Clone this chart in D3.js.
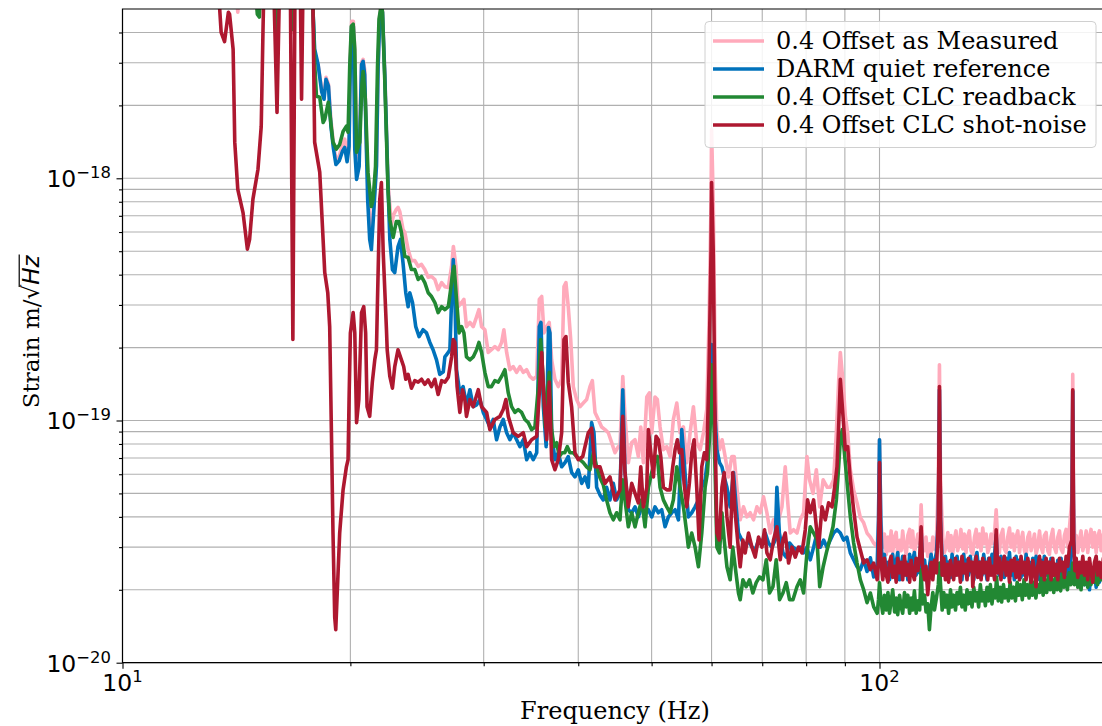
<!DOCTYPE html>
<html>
<head>
<meta charset="utf-8">
<script src="https://cdn.jsdelivr.net/npm/d3@7"></script>
<style>
  body { margin: 0; background: #fff; }
  svg { display: block; }
</style>
</head>
<body>
<div id="chart"></div>
<script>
// strain values below are written in units of 1e-20 m/sqrt(Hz), frequencies in Hz
const UNIT = 1e-20;

const seriesNames = ["0.4 Offset as Measured", "DARM quiet reference", "0.4 Offset CLC readback", "0.4 Offset CLC shot-noise"];
const seriesColors = ["#ffaabb", "#0072bb", "#228833", "#ae1830"];

const measured = [
 [10, 970], [14.11, 662], [14.2, 485], [14.3, 662], [14.97, 662], [15.09, 476], [15.2, 662],
 [15.84, 662], [15.97, 341], [16.1, 662], [16.63, 662], [16.76, 400], [16.88, 662], [17.78, 662],
 [17.94, 325], [18.13, 295], [18.33, 233], [18.46, 218], [18.57, 261], [18.71, 244], [18.85, 175],
 [19.0, 138], [19.14, 120], [19.33, 123], [19.52, 138], [19.66, 145], [19.8, 126], [19.92, 145],
 [19.99, 310], [20.08, 445], [20.18, 445], [20.27, 341], [20.38, 132], [20.54, 120], [20.69, 301],
 [20.79, 310], [20.89, 281], [21.0, 138], [21.21, 64.5], [21.32, 58.6], [21.47, 78], [21.65, 114],
 [21.76, 295], [21.87, 476], [21.97, 524], [22.05, 490], [22.21, 268], [22.43, 94.4], [22.66, 64.5],
 [22.82, 70.9], [23.0, 74.4], [23.12, 75.8], [23.24, 73], [23.47, 61.5], [23.6, 59.8], [23.84, 50.8],
 [24.08, 45.7], [24.33, 45.7], [24.58, 43.3], [24.83, 44.1], [25.08, 42.0], [25.34, 39.0], [25.6, 39.3],
 [25.86, 38.2], [26.12, 34.7], [26.4, 37.1], [26.66, 35.7], [26.94, 35.4], [27.21, 43.3], [27.36, 52.3],
 [27.57, 43.3], [27.76, 29.5], [28.05, 30.7], [28.25, 31.6], [28.47, 24.4], [28.77, 25.4], [29.06, 24.4],
 [29.36, 26.8], [29.57, 28.7], [29.81, 24.4], [30.11, 23.7], [30.42, 19.1], [30.72, 19.6], [31.04, 20.2],
 [31.36, 19.6], [31.68, 21.0], [31.9, 23.7], [32.17, 19.1], [32.49, 16.2], [32.82, 16.7], [33.16, 15.8],
 [33.5, 16.7], [33.84, 15.8], [34.19, 16.2], [34.53, 15.2], [34.88, 14.8], [35.25, 15.2], [35.53, 31.6],
 [35.79, 32.5], [36.04, 23.0], [36.34, 24.4], [36.62, 25.4], [36.89, 17.8], [37.26, 14.8], [37.64, 13.8],
 [38.03, 14.8], [38.3, 35.7], [38.53, 37.1], [38.8, 29.5], [39.09, 21.6], [39.4, 13.8], [39.8, 12.2],
 [40.21, 11.4], [40.62, 11.8], [41.03, 12.2], [41.45, 13.8], [41.75, 14.6], [42.09, 10.8], [42.52, 10.1],
 [42.95, 9.4], [43.39, 9.17], [43.83, 8.9], [44.28, 8.1], [44.73, 7.36], [45.18, 7.8], [45.41, 7.8],
 [45.8, 15.2], [46.11, 10.4], [46.58, 6.7], [47.06, 8.1], [47.54, 8.33], [48.02, 7.1], [48.38, 9.4],
 [48.76, 6.7], [49.27, 12.5], [49.66, 13.0], [50.02, 8.9], [50.52, 12.5], [50.88, 12.2], [51.3, 9.4],
 [51.82, 7.58], [52.36, 7.8], [52.89, 7.1], [53.42, 10.1], [53.98, 11.8], [54.52, 8.9], [55.08, 9.4],
 [55.64, 6.7], [56.21, 8.9], [56.78, 11.4], [57.35, 8.1], [57.95, 7.58], [58.54, 8.9], [59.13, 11.1],
 [59.55, 26.1], [59.91, 81.8], [60, 159], [60.3, 81.8], [60.66, 16.7], [60.98, 8.9], [61.47, 7.58],
 [61.96, 8.33], [62.53, 7.1], [63.17, 5.85], [63.81, 7.1], [64.27, 7.1], [64.8, 5.3], [65.46, 3.89],
 [66.12, 4.4], [66.81, 4.0], [67.48, 4.16], [68.17, 3.89], [68.87, 4.4], [69.57, 4.16], [70.28, 4.84],
 [71.0, 4.16], [71.72, 3.43], [72.45, 3.89], [73.19, 3.64], [74.32, 4.4], [75.07, 6.44], [75.6, 4.7],
 [76.23, 3.43], [77.0, 3.54], [77.8, 3.43], [78.58, 3.89], [79.38, 4.16], [80.2, 7.1], [80.83, 5.69],
 [81.68, 5.0], [82.52, 6.26], [83.37, 4.4], [84.25, 5.69], [85.31, 5.3], [86.1, 5.3], [86.98, 5.69],
 [87.7, 8.9], [88.31, 14.4], [88.77, 19.1], [89.5, 14.4], [90.13, 10.4], [90.77, 8.9], [91.51, 6.26],
 [92.44, 5.17], [93.4, 4.57], [94.34, 3.97], [95.3, 3.78], [96.28, 3.43], [97.26, 3.3], [98.25, 3.12],
 [99.3, 3.0], [99.7, 3.89], [100, 8.33], [100.4, 3.89],
 [101.0, 3.0], [101.5, 3.4], [102.1, 2.8], [102.6, 3.3], [103.1, 2.9], [103.6, 3.5], [104.1, 2.85], [104.7, 3.3],
 [105.2, 3.45], [105.7, 2.8], [106.3, 3.2], [106.8, 2.9], [107.3, 3.5], [107.9, 3.0], [108.5, 2.8], [109.0, 3.35],
 [109.6, 3.55], [110.1, 3.0], [110.6, 3.5], [111.2, 2.85], [111.8, 3.1], [112.4, 3.4], [113.0, 3.1], [113.5, 4.49],
 [114.0, 3.2], [114.7, 2.9], [115.2, 3.3], [115.8, 2.75], [116.4, 3.1], [117.0, 2.8], [117.6, 3.3], [118.2, 2.95],
 [118.9, 3.2], [119.6, 5.69], [120, 17.0], [120.4, 5.69], [121.2, 3.3], [121.8, 2.85], [122.4, 3.0], [123.1, 3.45],
 [123.7, 2.9], [124.3, 3.35], [124.9, 2.8], [125.6, 3.25], [126.2, 3.5], [126.8, 2.9], [127.5, 3.1], [128.1, 3.55],
 [128.8, 2.95], [129.4, 3.4], [130.1, 2.85], [130.7, 3.3], [131.4, 3.5], [132.1, 2.9], [132.8, 2.8], [133.5, 3.3],
 [134.2, 3.55], [134.8, 3.0], [135.5, 3.4], [136.2, 2.9], [136.9, 3.6], [137.6, 3.1], [138.3, 3.4], [139.0, 2.85],
 [139.7, 3.0], [140.4, 3.4], [141.1, 3.1], [142.0, 3.54], [142.6, 4.28], [143.2, 3.3], [144.0, 2.85], [144.7, 3.35],
 [145.5, 3.55], [146.2, 2.95], [147.0, 2.85], [147.7, 3.3], [148.5, 3.6], [149.2, 3.0], [150.0, 3.4], [150.7, 2.9],
 [151.5, 3.3], [152.3, 3.5], [153.1, 2.85], [153.8, 3.2], [154.6, 3.45], [155.4, 2.9], [156.2, 2.75], [157.0, 3.3],
 [157.8, 3.45], [158.6, 2.9], [159.4, 3.1], [160.2, 3.4], [161.0, 2.8], [161.8, 3.0], [162.7, 3.5], [163.5, 3.0],
 [164.3, 2.85], [165.1, 3.35], [166.0, 3.45], [166.8, 2.9], [167.7, 2.8], [168.5, 3.3], [169.4, 3.55], [170.2, 3.0],
 [171.1, 2.85], [172.0, 3.3], [172.9, 3.5], [173.7, 2.95], [174.6, 2.85], [175.5, 3.35], [176.4, 3.55], [177.3, 3.0],
 [178.2, 3.6], [179.5, 4.7], [180, 15.5], [180.5, 4.7], [181.2, 3.0], [181.9, 3.35], [182.8, 2.85], [183.7, 3.2],
 [184.6, 3.5], [185.6, 2.9], [186.5, 3.1], [187.5, 3.5], [188.4, 2.85], [189.4, 3.3], [190.3, 3.55], [191.3, 3.0],
 [192.3, 3.45], [193.3, 2.85], [194.2, 3.3], [195.2, 3.5], [196.2, 2.9], [197.6, 3.4], [199, 2.95], [201, 3.3]
];

const quietRef = [
 [10, 970], [17.78, 662], [17.94, 341], [18.13, 295], [18.33, 227], [18.46, 212], [18.57, 256], [18.71, 240],
 [18.85, 164], [19.0, 132], [19.14, 114], [19.33, 118], [19.52, 129], [19.66, 134], [19.8, 117], [19.92, 136],
 [19.99, 281], [20.08, 425], [20.18, 425], [20.27, 132], [20.38, 99], [20.54, 112], [20.69, 295], [20.79, 304],
 [20.89, 268], [21.0, 132], [21.08, 81.8], [21.21, 55.9], [21.32, 50.8], [21.47, 72.3], [21.65, 112], [21.76, 289],
 [21.87, 454], [21.97, 509], [22.05, 485], [22.21, 263], [22.43, 92.6], [22.55, 55.9], [22.73, 42.0], [22.89, 40.8],
 [23.12, 52.3], [23.29, 55.9], [23.47, 44.9], [23.67, 33.7], [23.84, 29.5], [23.96, 33.7], [24.16, 30.7], [24.4, 24.4],
 [24.65, 22.2], [24.95, 23.7], [25.21, 23.0], [25.47, 21.0], [25.72, 19.6], [25.99, 17.8], [26.25, 15.5], [26.53, 15.9],
 [26.66, 18.3], [26.94, 19.1], [27.07, 19.6], [27.21, 31.6], [27.35, 46.2], [27.48, 33.1], [27.62, 16.2], [27.9, 13.0],
 [28.18, 13.8], [28.47, 11.6], [28.77, 13.4], [29.06, 11.4], [29.36, 11.6], [29.66, 12.2], [29.96, 10.8], [30.27, 10.1],
 [30.57, 9.4], [30.88, 10.1], [31.2, 8.33], [31.52, 9.4], [31.84, 10.1], [32.17, 8.9], [32.49, 8.33], [32.82, 8.9],
 [33.16, 8.33], [33.5, 7.8], [33.84, 8.33], [34.19, 6.89], [34.53, 7.36], [34.88, 6.89], [35.25, 7.36], [35.53, 24.4],
 [35.71, 25.4], [35.97, 11.4], [36.28, 7.8], [36.54, 24.2], [36.7, 23.0], [36.89, 8.9], [37.26, 6.89], [37.64, 7.36],
 [38.03, 6.44], [38.42, 6.7], [38.8, 7.1], [39.2, 6.1], [39.6, 5.85], [40.0, 6.26], [40.42, 5.5], [40.83, 5.85],
 [41.24, 5.3], [41.66, 9.8], [41.96, 8.9], [42.3, 5.3], [42.73, 4.93], [43.16, 4.7], [43.6, 5.3], [44.05, 4.7],
 [44.5, 5.5], [44.95, 4.7], [45.41, 5.0], [45.8, 13.4], [46.11, 6.1], [46.58, 4.28], [47.06, 4.16], [47.54, 4.4],
 [48.02, 4.0], [48.51, 4.4], [49.01, 4.16], [49.51, 4.28], [50.02, 4.0], [50.52, 4.4], [51.04, 4.16], [51.56, 4.28],
 [52.09, 3.64], [52.62, 4.0], [53.16, 4.16], [53.7, 4.28], [54.25, 3.89], [54.8, 9.17], [55.19, 6.89], [55.53, 5.3],
 [55.91, 4.0], [56.49, 4.16], [57.07, 4.4], [57.65, 4.7], [58.24, 5.3], [58.84, 5.69], [59.26, 6.89], [59.74, 12.2],
 [60, 20.6], [60.48, 12.2], [60.98, 7.58], [61.47, 6.7], [61.92, 6.44], [62.35, 5.85], [62.87, 5.3], [63.49, 4.4],
 [64.13, 6.1], [64.66, 4.4], [65.12, 3.43], [65.79, 3.21], [66.46, 3.0], [67.14, 3.21], [67.84, 3.0], [68.52, 2.92],
 [69.22, 3.21], [69.93, 3.12], [70.64, 3.43], [71.36, 3.12], [72.09, 3.0], [72.82, 3.21], [73.19, 5.3], [73.75, 3.43],
 [74.55, 2.84], [75.3, 2.73], [76.06, 3.12], [76.85, 3.0], [77.8, 2.92], [78.58, 3.0], [79.38, 2.84], [80.2, 3.0],
 [81.01, 2.66], [81.84, 3.0], [82.69, 3.43], [83.52, 3.0], [84.37, 3.21], [85.23, 3.0], [86.1, 3.21], [86.98, 3.43],
 [87.88, 3.54], [88.77, 3.43], [89.66, 3.21], [90.55, 3.3], [91.51, 2.84], [92.44, 2.66], [93.4, 2.49], [94.34, 2.42],
 [95.3, 2.66], [96.28, 2.38], [97.26, 2.71], [98.25, 2.26], [99.3, 2.53], [99.7, 3.89], [100, 8.33], [100.4, 3.89],
 [100.8, 2.5], [101.5, 2.8], [102.1, 2.35], [102.6, 2.6], [103.1, 2.2], [103.6, 2.45], [104.1, 2.8], [104.7, 2.3],
 [105.2, 2.6], [105.7, 2.85], [106.3, 2.2], [106.8, 2.5], [107.3, 2.75], [107.9, 2.3], [108.5, 2.6], [109.0, 2.2],
 [109.6, 2.8], [110.1, 2.4], [110.6, 2.65], [111.2, 2.85], [111.8, 2.3], [112.4, 2.6], [113.0, 2.35], [113.5, 3.54],
 [114.0, 2.4], [114.7, 2.65], [115.2, 2.3], [115.8, 2.10], [116.4, 2.5], [117.0, 2.8], [117.6, 2.4], [118.2, 2.6],
 [118.9, 2.85], [119.6, 3.89], [120, 13.4], [120.4, 3.89], [121.0, 2.6], [121.6, 2.3], [122.2, 2.75], [122.8, 2.4],
 [123.4, 2.6], [124.1, 2.25], [124.7, 2.8], [125.3, 2.5], [126.0, 2.3], [126.6, 2.75], [127.2, 2.4], [127.9, 2.6],
 [128.5, 2.2], [129.2, 2.8], [129.8, 2.35], [130.5, 2.65], [131.1, 2.3], [131.8, 2.75], [132.5, 2.4], [133.2, 2.2],
 [133.9, 2.7], [134.5, 2.85], [135.2, 2.4], [135.9, 2.6], [136.6, 2.3], [137.3, 2.8], [138.0, 2.45], [138.7, 2.2],
 [139.4, 2.7], [140.1, 2.4], [140.8, 2.8], [141.5, 2.5], [142.6, 3.37], [143.3, 2.4], [144.0, 2.3], [144.7, 2.75],
 [145.5, 2.45], [146.2, 2.25], [147.0, 2.7], [147.7, 2.4], [148.5, 2.85], [149.2, 2.3], [150.0, 2.55], [150.7, 2.2],
 [151.5, 2.75], [152.3, 2.4], [153.1, 2.65], [153.8, 2.25], [154.6, 2.6], [155.4, 2.3], [156.2, 2.8], [157.0, 2.4],
 [157.8, 2.6], [158.6, 2.25], [159.4, 2.7], [160.2, 2.3], [161.0, 2.75], [161.8, 2.4], [162.7, 2.2], [163.5, 2.65],
 [164.3, 2.35], [165.1, 2.75], [166.0, 2.3], [166.8, 2.6], [167.7, 2.2], [168.5, 2.7], [169.4, 2.35], [170.2, 2.55],
 [171.1, 2.2], [172.0, 2.65], [172.9, 2.3], [173.7, 2.7], [174.6, 2.25], [175.5, 2.5], [176.4, 2.15], [177.3, 2.6],
 [178.2, 2.35], [179.5, 3.21], [180, 13.2], [180.5, 3.21], [181.2, 2.3], [181.9, 2.6], [182.8, 2.2], [183.7, 2.5],
 [184.6, 2.2], [185.6, 2.4], [186.5, 2.1], [187.5, 2.55], [188.4, 2.3], [189.4, 2.0], [190.3, 2.45], [191.3, 2.2],
 [192.3, 2.35], [193.3, 2.05], [194.2, 2.4], [195.2, 2.15], [196.2, 2.45], [197.6, 2.2], [199, 2.4], [201, 2.3]
];

const clcReadback = [
 [10, 970], [14.95, 662], [15.07, 476], [15.16, 463], [15.25, 662], [15.84, 662], [15.97, 341], [16.1, 662],
 [16.63, 662], [16.76, 412], [16.88, 662], [17.78, 662], [17.85, 499], [17.94, 301], [18.04, 218], [18.22, 216],
 [18.41, 170], [18.5, 175], [18.7, 206], [18.78, 187], [18.97, 141], [19.17, 132], [19.36, 138], [19.56, 156],
 [19.76, 164], [19.86, 155], [19.96, 289], [20.06, 425], [20.17, 433], [20.27, 341], [20.38, 128], [20.58, 141],
 [20.72, 249], [20.79, 276], [20.93, 212], [21.1, 106], [21.32, 76.5], [21.43, 81.8], [21.59, 112], [21.72, 289],
 [21.82, 454], [21.98, 524], [22.05, 485], [22.21, 249], [22.43, 87.5], [22.55, 67.6], [22.78, 57], [23.0, 66.3],
 [23.18, 66.3], [23.36, 59.8], [23.6, 47.6], [23.84, 47.1], [24.08, 42.0], [24.33, 42.0], [24.58, 38.2], [24.83, 39.3],
 [25.08, 37.1], [25.34, 33.7], [25.6, 32.5], [25.86, 30.7], [26.12, 27.9], [26.4, 29.5], [26.66, 28.7], [26.94, 29.5],
 [27.13, 34.7], [27.3, 40.8], [27.42, 43.3], [27.62, 31.6], [27.84, 23.0], [28.05, 24.4], [28.25, 23.0], [28.47, 18.3],
 [28.77, 17.8], [29.06, 18.3], [29.36, 19.6], [29.57, 21.0], [29.81, 19.1], [30.11, 15.8], [30.42, 13.8], [30.72, 13.8],
 [31.04, 14.6], [31.36, 14.4], [31.68, 15.2], [32.0, 16.2], [32.33, 13.0], [32.66, 11.4], [32.99, 10.8], [33.32, 11.1],
 [33.67, 10.8], [34.01, 10.1], [34.36, 9.8], [34.71, 9.17], [35.06, 9.4], [35.43, 13.8], [35.68, 21.6], [35.9, 15.8],
 [36.18, 9.4], [36.45, 13.8], [36.62, 15.8], [36.89, 9.17], [37.15, 7.8], [37.46, 8.1], [37.76, 7.1], [38.08, 7.36],
 [38.39, 7.36], [38.69, 7.8], [39.01, 7.36], [39.4, 7.36], [39.8, 7.1], [40.21, 6.89], [40.62, 6.7], [41.03, 6.44],
 [41.45, 6.26], [41.88, 7.36], [42.3, 6.44], [42.73, 5.8], [43.16, 5.43], [43.6, 4.7], [44.05, 4.16], [44.5, 3.89],
 [44.95, 4.16], [45.41, 3.89], [45.8, 5.69], [46.11, 4.7], [46.58, 3.64], [47.06, 4.16], [47.54, 3.64], [48.02, 4.16],
 [48.51, 4.7], [49.01, 3.64], [49.51, 5.3], [50.02, 6.1], [50.52, 6.89], [50.88, 7.1], [51.3, 5.3], [51.82, 4.7],
 [52.36, 4.4], [52.89, 4.16], [53.42, 4.7], [53.98, 6.44], [54.52, 5.3], [55.08, 4.4], [55.64, 3.43], [55.91, 3.0],
 [56.49, 3.43], [57.07, 3.0], [57.65, 2.49], [58.24, 3.43], [58.84, 5.3], [59.26, 6.1], [59.74, 9.4], [60, 17.0],
 [60.48, 8.9], [60.98, 3.0], [61.47, 2.84], [61.92, 4.16], [62.35, 3.21], [62.87, 2.49], [63.49, 2.2], [64.0, 3.0],
 [64.47, 2.49], [65.12, 1.94], [65.46, 1.82], [66.0, 2.2], [66.66, 2.06], [67.34, 2.2], [68.03, 1.94], [68.73, 2.14],
 [69.43, 2.26], [70.15, 2.2], [70.86, 2.66], [71.58, 1.94], [72.32, 2.06], [73.04, 2.66], [73.79, 1.82], [74.55, 1.94],
 [75.3, 2.14], [76.06, 1.82], [76.85, 1.82], [77.8, 2.06], [78.58, 2.2], [79.38, 1.94], [80.2, 2.84], [81.01, 3.64],
 [81.84, 3.43], [82.69, 3.21], [83.37, 2.06], [84.25, 2.49], [85.07, 2.84], [85.93, 3.21], [86.81, 3.64], [87.7, 4.7],
 [88.31, 6.44], [88.77, 8.33], [89.3, 9.17], [90.55, 5.69], [91.51, 4.0], [92.44, 3.12], [93.4, 2.58], [94.34, 2.2],
 [95.3, 2.0], [96.28, 1.77], [97.26, 1.94], [98.25, 1.70], [99.3, 1.60], [99.7, 1.82], [100, 2.14], [100.4, 1.82],
 [101.0, 1.6], [101.5, 1.9], [102.1, 1.65], [102.6, 1.95], [103.1, 1.6], [103.6, 1.8], [104.1, 2.0], [104.7, 1.62],
 [105.2, 1.85], [105.7, 1.58], [106.3, 1.9], [106.8, 1.7], [107.3, 1.6], [107.9, 1.95], [108.5, 1.7], [109.0, 1.9],
 [109.6, 1.6], [110.1, 1.85], [110.6, 1.65], [111.2, 1.98], [111.8, 1.6], [112.4, 1.8], [113.0, 1.65], [113.5, 2.42],
 [114.0, 1.75], [114.7, 1.9], [115.2, 1.62], [115.8, 1.75], [116.4, 1.37], [117.0, 1.7], [117.6, 1.95], [118.2, 1.65],
 [118.9, 1.85], [119.6, 2.10], [120, 2.58], [120.4, 2.10], [121.0, 1.65], [121.6, 1.95], [122.2, 1.7], [122.8, 1.9],
 [123.4, 1.6], [124.1, 2.0], [124.7, 1.7], [125.3, 1.9], [126.0, 1.65], [126.6, 1.95], [127.2, 1.75], [127.9, 2.05],
 [128.5, 1.7], [129.2, 1.9], [129.8, 1.65], [130.5, 2.0], [131.1, 1.75], [131.8, 1.95], [132.5, 1.7], [133.2, 2.05],
 [133.9, 1.8], [134.5, 1.95], [135.2, 1.7], [135.9, 2.1], [136.6, 1.8], [137.3, 1.95], [138.0, 1.72], [138.7, 2.05],
 [139.4, 1.8], [140.1, 2.1], [140.8, 1.75], [141.5, 2.0], [142.2, 1.85], [142.8, 2.26], [143.5, 1.8], [144.3, 2.05],
 [145.0, 1.78], [145.8, 2.1], [146.5, 1.85], [147.3, 2.0], [148.0, 1.8], [148.8, 2.15], [149.6, 1.85], [150.4, 2.05],
 [151.2, 1.8], [152.0, 2.15], [152.8, 1.9], [153.6, 2.1], [154.4, 1.82], [155.2, 2.2], [156.0, 1.9], [156.8, 2.1],
 [157.6, 1.85], [158.4, 2.2], [159.2, 1.9], [160.0, 2.15], [160.9, 1.85], [161.8, 2.1], [162.7, 1.95], [163.6, 2.25],
 [164.5, 1.9], [165.4, 2.2], [166.3, 1.95], [167.2, 2.3], [168.1, 2.0], [169.0, 2.2], [169.9, 1.95], [170.8, 2.3],
 [171.7, 2.0], [172.6, 2.25], [173.5, 1.98], [174.4, 2.35], [175.3, 2.05], [176.2, 2.25], [177.1, 2.0], [178.0, 2.35],
 [179.0, 2.1], [180, 2.58], [180.9, 2.1], [181.9, 2.35], [182.8, 2.05], [183.7, 2.3], [184.6, 2.0], [185.6, 2.4],
 [186.5, 2.1], [187.5, 2.3], [188.4, 2.05], [189.4, 2.4], [190.3, 2.1], [191.3, 2.45], [192.3, 2.15], [193.3, 2.35],
 [194.2, 2.1], [195.2, 2.5], [196.2, 2.2], [197.6, 2.4], [199, 2.15], [201, 2.4]
];

const clcShotNoise = [
 [10, 970], [13.23, 662], [13.44, 499], [13.5, 400], [13.64, 367], [13.8, 485], [13.85, 476], [14.0, 341],
 [14.07, 141], [14.2, 90], [14.43, 72], [14.62, 51], [14.72, 56], [14.87, 82], [15.1, 109], [15.25, 164],
 [15.33, 400], [15.38, 662], [15.79, 662], [15.87, 499], [16.0, 187], [16.1, 499], [16.18, 662], [16.66, 662],
 [16.79, 21.6], [16.9, 662], [17.17, 662], [17.24, 212], [17.32, 662], [17.78, 662], [17.85, 499], [17.94, 141],
 [18.22, 106], [18.5, 40.8], [18.67, 33.7], [18.78, 24.4], [18.88, 8.9], [18.97, 3.43], [19.07, 1.54], [19.13, 1.37],
 [19.2, 1.82], [19.36, 3.43], [19.56, 5.17], [19.76, 6.44], [19.86, 6.89], [19.92, 12.2], [20.0, 23.0], [20.17, 27.9],
 [20.27, 23.0], [20.38, 9.8], [20.52, 12.2], [20.69, 27.9], [20.83, 29.5], [20.95, 23.0], [21.04, 11.4], [21.21, 10.4],
 [21.38, 14.4], [21.54, 17.8], [21.65, 19.6], [21.72, 31.6], [21.87, 81.8], [21.98, 96], [22.1, 49.4], [22.32, 23.7],
 [22.37, 19.6], [22.55, 15.2], [22.73, 13.6], [22.89, 16.7], [23.12, 19.6], [23.36, 17.8], [23.52, 16.7], [23.67, 14.8],
 [23.84, 15.5], [24.08, 13.6], [24.33, 14.6], [24.58, 14.4], [24.83, 14.8], [25.08, 14.1], [25.34, 14.7], [25.6, 13.8],
 [25.86, 14.8], [26.12, 12.8], [26.4, 14.6], [26.66, 14.4], [26.94, 15.1], [27.21, 18.3], [27.35, 21.6], [27.48, 21.0],
 [27.67, 13.8], [27.9, 10.8], [28.13, 13.4], [28.33, 12.2], [28.47, 10.4], [28.77, 12.2], [29.06, 11.4], [29.51, 13.4],
 [29.81, 11.4], [30.27, 10.8], [30.57, 9.17], [31.04, 10.1], [31.52, 10.4], [31.84, 11.1], [32.1, 12.2], [32.33, 10.4],
 [32.82, 8.9], [33.32, 8.6], [33.84, 8.9], [34.19, 7.8], [34.71, 8.33], [35.25, 8.6], [35.53, 13.0], [35.79, 19.1],
 [36.04, 12.2], [36.34, 8.33], [36.62, 14.4], [36.89, 6.89], [37.26, 6.26], [37.64, 6.89], [38.03, 8.9], [38.3, 21.6],
 [38.53, 22.2], [38.8, 14.4], [39.2, 11.4], [39.6, 7.36], [40.0, 6.89], [40.55, 7.1], [40.83, 7.8], [41.24, 8.9],
 [41.66, 9.3], [42.09, 6.44], [42.73, 6.44], [43.39, 5.5], [44.05, 5.85], [44.73, 4.7], [45.41, 5.17], [45.8, 10.4],
 [46.11, 6.1], [46.58, 4.4], [47.06, 5.5], [47.54, 5.0], [48.02, 4.57], [48.38, 6.44], [48.76, 4.4], [49.27, 5.3],
 [49.51, 9.17], [49.88, 7.36], [50.28, 5.85], [50.68, 8.6], [51.04, 8.33], [51.41, 7.1], [51.82, 5.3], [52.36, 5.17],
 [52.89, 5.17], [53.32, 6.44], [53.7, 7.58], [54.08, 8.33], [54.41, 7.36], [54.8, 7.58], [55.19, 5.5], [55.64, 4.4],
 [56.08, 5.5], [56.49, 7.36], [56.89, 8.33], [57.35, 5.3], [57.76, 3.21], [58.24, 6.44], [58.7, 7.36], [59.13, 6.89],
 [59.55, 16.7], [59.91, 50.8], [60, 96], [60.3, 50.8], [60.66, 8.9], [60.98, 3.43], [61.41, 3.21], [61.92, 5.3],
 [62.35, 6.1], [62.87, 4.0], [63.49, 3.0], [64.0, 6.1], [64.47, 4.16], [65.12, 2.92], [65.46, 2.49], [66.0, 3.21],
 [66.46, 2.84], [67.14, 3.43], [67.84, 3.0], [68.52, 2.73], [69.22, 3.3], [69.93, 3.0], [70.49, 3.54], [71.0, 2.84],
 [71.72, 2.66], [72.45, 3.21], [73.19, 3.64], [73.94, 2.66], [74.55, 3.21], [75.07, 3.43], [75.84, 2.58], [76.62, 3.0],
 [77.4, 2.73], [78.18, 3.0], [78.98, 2.84], [79.79, 3.54], [80.35, 4.7], [81.01, 4.16], [81.84, 4.7], [82.52, 3.64],
 [83.1, 3.0], [83.96, 4.4], [84.8, 3.89], [85.66, 4.57], [86.55, 4.4], [87.24, 5.3], [87.88, 6.44], [88.31, 9.4],
 [88.77, 14.8], [89.5, 10.4], [90.13, 7.58], [90.77, 7.8], [91.51, 5.69], [92.44, 4.28], [93.4, 3.3], [94.34, 2.92],
 [95.3, 2.58], [96.28, 2.66], [97.26, 2.42], [98.25, 2.58], [99.3, 2.2], [99.7, 2.66], [100, 6.7], [100.4, 2.66],
 [101.0, 2.2], [101.5, 2.7], [102.1, 2.3], [102.6, 2.15], [103.1, 2.6], [103.6, 2.75], [104.1, 2.25], [104.7, 2.5],
 [105.2, 2.15], [105.7, 2.7], [106.3, 2.35], [106.8, 2.6], [107.3, 2.2], [107.9, 2.75], [108.5, 2.3], [109.0, 2.55],
 [109.6, 2.15], [110.1, 2.65], [110.6, 2.35], [111.2, 2.2], [111.8, 2.7], [112.4, 2.4], [113.0, 2.75], [113.5, 3.64],
 [114.0, 2.5], [114.7, 2.2], [115.2, 2.5], [115.8, 1.91], [116.4, 2.3], [117.0, 2.6], [117.6, 2.2], [118.2, 2.65],
 [118.9, 2.35], [119.6, 3.9], [120, 13.8], [120.4, 3.9], [121.0, 2.3], [121.6, 2.7], [122.2, 2.2], [122.8, 2.55],
 [123.4, 2.15], [124.1, 2.65], [124.7, 2.4], [125.3, 2.2], [126.0, 2.7], [126.6, 2.3], [127.2, 2.6], [127.9, 2.15],
 [128.5, 2.75], [129.2, 2.35], [129.8, 2.55], [130.5, 2.2], [131.1, 2.7], [131.8, 2.4], [132.5, 2.6], [132.8, 2.06],
 [133.5, 2.5], [134.2, 2.75], [134.8, 2.25], [135.5, 2.6], [136.2, 2.2], [136.9, 2.7], [137.6, 2.35], [138.3, 2.6],
 [139.0, 2.2], [139.7, 2.7], [140.4, 2.3], [141.1, 2.5], [141.9, 2.2], [142.6, 3.54], [143.3, 2.35], [144.0, 2.7],
 [144.7, 2.2], [145.5, 2.55], [146.2, 2.75], [147.0, 2.3], [147.7, 2.6], [148.5, 2.15], [149.2, 2.65], [150.0, 2.4],
 [150.7, 2.7], [151.5, 2.25], [152.3, 2.6], [153.1, 2.2], [153.8, 2.75], [154.6, 2.35], [155.4, 2.6], [156.2, 2.2],
 [157.0, 2.7], [157.8, 2.4], [158.6, 2.15], [159.4, 2.65], [160.2, 2.4], [161.0, 2.06], [161.8, 2.5], [162.7, 2.75],
 [163.5, 2.3], [164.3, 2.6], [165.1, 2.2], [166.0, 2.7], [166.8, 2.35], [167.7, 2.6], [168.5, 2.2], [169.4, 2.7],
 [170.2, 2.3], [171.1, 2.55], [172.0, 2.2], [172.9, 2.7], [173.7, 2.4], [174.6, 2.6], [175.5, 2.25], [176.4, 2.75],
 [177.3, 2.5], [178.2, 3.0], [179.5, 3.21], [180, 13.4], [180.5, 3.21], [181.2, 2.4], [181.9, 2.7], [182.8, 2.25],
 [183.7, 2.6], [184.6, 2.35], [185.6, 2.75], [186.5, 2.3], [187.5, 2.6], [188.4, 2.2], [189.4, 2.7], [190.3, 2.4],
 [191.3, 2.15], [192.3, 2.6], [193.3, 2.75], [194.2, 2.3], [195.2, 2.6], [196.2, 2.25], [197.6, 2.7], [199, 2.35],
 [201, 2.5]
];

const xDomain = [10, 200];
const yDomain = [1e-20, 5e-18];
const xMajorTicks = [10, 100];
const xMinorTicks = [20, 30, 40, 50, 60, 70, 80, 90, 200];
const yMajorTicks = [1e-20, 1e-19, 1e-18];
const yMinorTicks = [2e-20, 3e-20, 4e-20, 5e-20, 6e-20, 7e-20, 8e-20, 9e-20,
                     2e-19, 3e-19, 4e-19, 5e-19, 6e-19, 7e-19, 8e-19, 9e-19,
                     2e-18, 3e-18, 4e-18];

const W = 1102, H = 726;
const box = { left: 122.5, top: 9, bottom: 662.7 };
box.right = box.left + 757 * Math.log10(xDomain[1] / xDomain[0]);

const serif = "'DejaVu Serif', serif";
const sans = "'DejaVu Sans', sans-serif";
const fontSize = 24;
const tickFont = 23.5;

const x = d3.scaleLog().domain(xDomain).range([box.left, box.right]);
const y = d3.scaleLog().domain(yDomain).range([box.bottom, box.top]);

const svg = d3.select("#chart").append("svg")
    .attr("width", W).attr("height", H)
    .attr("viewBox", [0, 0, W, H]);

svg.append("rect").attr("width", W).attr("height", H).attr("fill", "#fff");

svg.append("clipPath").attr("id", "plotclip")
  .append("rect")
    .attr("x", box.left).attr("y", box.top)
    .attr("width", box.right - box.left).attr("height", box.bottom - box.top);

// grid, major and minor
const grid = svg.append("g").attr("stroke", "#b0b0b0").attr("stroke-width", 1.1);
grid.selectAll(".vg").data(xMajorTicks.concat(xMinorTicks)).join("line")
    .attr("x1", d => x(d)).attr("x2", d => x(d))
    .attr("y1", box.top).attr("y2", box.bottom);
grid.selectAll(".hg").data(yMajorTicks.concat(yMinorTicks)).join("line")
    .attr("x1", box.left).attr("x2", box.right)
    .attr("y1", d => y(d)).attr("y2", d => y(d));

// spectra
const line = d3.line()
    .x(d => x(d[0]))
    .y(d => y(d[1] * UNIT));

const allSeries = [measured, quietRef, clcReadback, clcShotNoise];
svg.append("g").attr("clip-path", "url(#plotclip)")
  .selectAll("path").data(allSeries).join("path")
    .attr("d", line)
    .attr("fill", "none")
    .attr("stroke", (d, i) => seriesColors[i])
    .attr("stroke-width", 3.6)
    .attr("stroke-linejoin", "round");

// axes ticks
const tickStyle = g => {
  g.select(".domain").remove();
  g.selectAll(".tick line").attr("stroke", "#000").attr("stroke-width", 1.1);
};
svg.append("g").attr("transform", `translate(0,${box.bottom})`)
    .call(d3.axisBottom(x).tickValues(xMajorTicks).tickSize(6).tickFormat(""))
    .call(tickStyle);
svg.append("g").attr("transform", `translate(0,${box.bottom})`)
    .call(d3.axisBottom(x).tickValues(xMinorTicks).tickSize(3.5).tickFormat(""))
    .call(tickStyle);
svg.append("g").attr("transform", `translate(${box.left},0)`)
    .call(d3.axisLeft(y).tickValues(yMajorTicks).tickSize(6).tickFormat(""))
    .call(tickStyle);
svg.append("g").attr("transform", `translate(${box.left},0)`)
    .call(d3.axisLeft(y).tickValues(yMinorTicks).tickSize(3.5).tickFormat(""))
    .call(tickStyle);

// spines
svg.append("path")
    .attr("d", `M${box.right},${box.top}H${box.left}V${box.bottom}H${box.right}`)
    .attr("stroke", "#000").attr("stroke-width", 1.2).attr("fill", "none");

// tick labels 10^n
const powerLabel = (sel, v) => {
  const e = Math.round(Math.log10(v));
  sel.append("tspan").text("10");
  sel.append("tspan").attr("dy", -9).attr("font-size", tickFont * 0.7)
     .text(e < 0 ? "\u2212" + (-e) : String(e));
};
svg.append("g").selectAll("text").data(xMajorTicks).join("text")
    .attr("x", d => x(d)).attr("y", 691)
    .attr("text-anchor", "middle")
    .attr("font-family", sans).attr("font-size", tickFont).attr("fill", "#000")
    .each(function(d) { powerLabel(d3.select(this), d); });
svg.append("g").selectAll("text").data(yMajorTicks).join("text")
    .attr("x", 111).attr("y", d => y(d) + 9)
    .attr("text-anchor", "end")
    .attr("font-family", sans).attr("font-size", tickFont).attr("fill", "#000")
    .each(function(d) { powerLabel(d3.select(this), d); });

// axis labels
svg.append("text")
    .attr("x", (box.left + box.right) / 2).attr("y", 719)
    .attr("text-anchor", "middle")
    .attr("font-family", serif).attr("font-size", fontSize).attr("fill", "#000")
    .text("Frequency (Hz)");

const ylab = svg.append("g").attr("transform", `translate(39,${(box.top + box.bottom) / 2 - 4}) rotate(-90)`);
const ylabText = ylab.append("text")
    .attr("text-anchor", "middle")
    .attr("font-size", 23).attr("fill", "#000");
ylabText.append("tspan").attr("font-family", serif).text("Strain m/");
ylabText.append("tspan").attr("font-family", sans).text("\u221A");
ylabText.append("tspan").attr("font-family", sans).attr("font-style", "italic").text("Hz");
{
  const n = ylabText.node();
  const rootStart = n.getStartPositionOfChar(9).x;
  const rootEnd = n.getEndPositionOfChar(9).x;
  const hzEnd = n.getEndPositionOfChar(11).x;
  ylab.append("line")
      .attr("x1", rootStart + (rootEnd - rootStart) * 0.85).attr("x2", hzEnd + 1)
      .attr("y1", -23 * 0.86).attr("y2", -23 * 0.86)
      .attr("stroke", "#000").attr("stroke-width", 1.2);
}

// legend
const legend = svg.append("g").attr("transform", "translate(705,21.5)");
legend.append("rect")
    .attr("width", 391).attr("height", 126).attr("rx", 4)
    .attr("fill", "#fff").attr("fill-opacity", 0.85)
    .attr("stroke", "#d0d0d0").attr("stroke-width", 1);
const rows = legend.selectAll("g.row").data(seriesNames).join("g")
    .attr("transform", (d, i) => `translate(0,${19.5 + i * 28})`);
rows.append("line")
    .attr("x1", 8).attr("x2", 59)
    .attr("stroke", (d, i) => seriesColors[i]).attr("stroke-width", 3.6);
rows.append("text")
    .attr("x", 71).attr("y", 8)
    .attr("font-family", serif).attr("font-size", fontSize).attr("fill", "#000")
    .text(d => d);
</script>
</body>
</html>
